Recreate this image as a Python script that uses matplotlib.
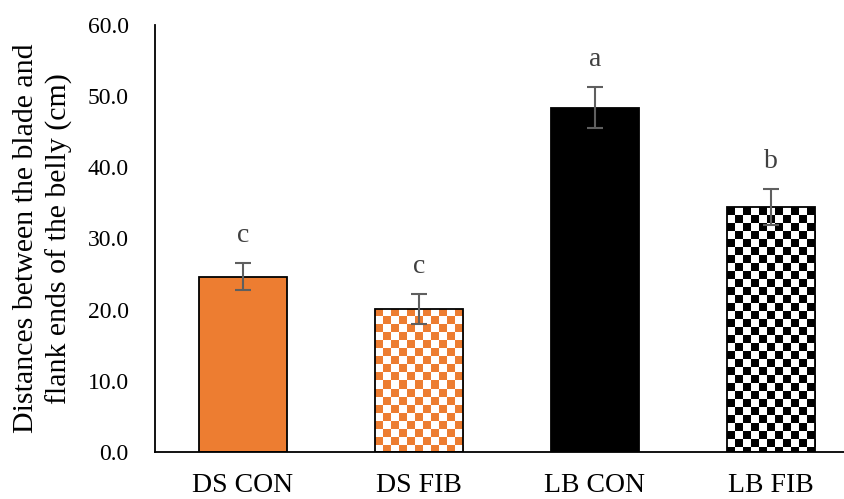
import matplotlib
matplotlib.use("Agg")
import matplotlib.pyplot as plt
import numpy as np

categories = ["DS CON", "DS FIB", "LB CON", "LB FIB"]
values = [24.6, 20.1, 48.4, 34.4]
errors = [1.9, 2.1, 2.9, 2.5]
letters = ["c", "c", "a", "b"]
yticks = [0, 10, 20, 30, 40, 50, 60]

ORANGE = "#ED7D31"
fills = [(ORANGE, None), (ORANGE, "white"), ("black", None), ("black", "white")]

plt.rcParams['font.family'] = ['Liberation Serif', 'DejaVu Serif']

fig = plt.figure(figsize=(8.44, 4.99), dpi=100)
W, H = 844, 499
ax = fig.add_axes([155 / W, 47 / H, 704 / W, 427 / H])
ax.set_xlim(-0.5, 3.5)
ax.set_ylim(0, 60)

x = np.arange(len(categories))
for i in range(len(categories)):
    c1, c2 = fills[i]
    fc = c1 if c2 is None else "none"
    b = ax.bar(x[i], values[i], width=0.505, color=fc, edgecolor="black",
               linewidth=1.3, zorder=2)[0]
    if c2 is not None:
        # checkerboard texture clipped to bar
        x0, y0 = b.get_x(), b.get_y()
        x1, y1 = x0 + b.get_width(), y0 + b.get_height()
        p0 = ax.transData.transform((x0, y0))
        p1 = ax.transData.transform((x1, y1))
        cell = 8.0
        nx = int(np.ceil((p1[0] - p0[0]) / cell))
        ny = int(np.ceil((p1[1] - p0[1]) / cell))
        ii, jj = np.meshgrid(np.arange(nx), np.arange(ny))
        mask = (ii + jj) % 2
        rgb1 = np.array(matplotlib.colors.to_rgb(c1))
        rgb2 = np.array(matplotlib.colors.to_rgb(c2))
        img = np.where(mask[..., None] == 0, rgb1, rgb2)
        dx = (x1 - x0) / ((p1[0] - p0[0]) / cell)
        dy = (y1 - y0) / ((p1[1] - p0[1]) / cell)
        im = ax.imshow(img, extent=(x0, x0 + nx * dx, y1 - ny * dy, y1),
                       origin="upper", interpolation="nearest", aspect="auto",
                       zorder=1.5)
        im.set_clip_path(b)

ax.errorbar(x, values, yerr=errors, fmt="none", ecolor="#5f5f5f",
            elinewidth=1.5, capsize=6, capthick=1.5, zorder=3)

for i in range(len(categories)):
    ax.text(x[i], values[i] + errors[i] + 3.0, letters[i], ha="center",
            va="baseline", fontsize=20, color="#404040")

ax.set_xticks(x)
ax.set_xticklabels(categories, fontsize=20)
ax.set_yticks(yticks)
ax.set_yticklabels([f"{v:.1f}" for v in yticks], fontsize=17)
ax.tick_params(axis="both", length=0)
ax.tick_params(axis="y", pad=19)
ax.tick_params(axis="x", pad=15)
for s in ["top", "right"]:
    ax.spines[s].set_visible(False)
for s in ["left", "bottom"]:
    ax.spines[s].set_linewidth(1.3)
    ax.spines[s].set_color("black")

ax.set_ylabel("Distances between the blade and\nflank ends of the belly (cm)",
              fontsize=21.5, linespacing=1.3)
ax.yaxis.set_label_coords(-82 / 704, 0.5)

fig.savefig("out.png", dpi=100)
